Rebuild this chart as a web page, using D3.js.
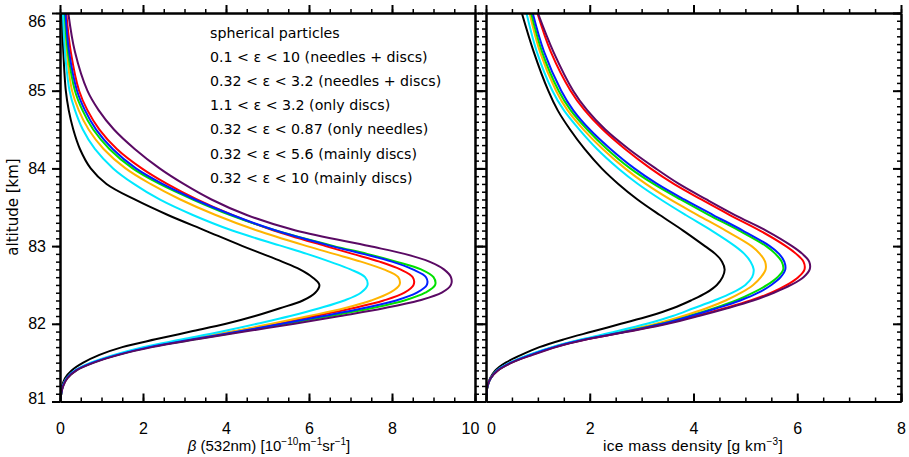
<!DOCTYPE html>
<html>
<head>
<meta charset="utf-8">
<script src="https://cdn.jsdelivr.net/npm/d3@7"></script>
<style>
  body { margin: 0; background: #fff; }
  svg { display: block; }
  text { fill: #000; }
</style>
</head>
<body>
<svg id="chart" width="909" height="457"></svg>
<script>
// Altitude levels [km] shared by every profile
const altitude = [81.0, 81.1, 81.2, 81.3, 81.4, 81.5, 81.6, 81.7, 81.8, 81.9,
                  82.0, 82.1, 82.2, 82.3, 82.4, 82.5, 82.6, 82.7, 82.8, 82.9,
                  83.0, 83.2, 83.4, 83.6, 83.8, 84.0, 84.25, 84.5, 84.75, 85.0, 85.5, 86.0];

// Volume backscatter coefficient beta at 532 nm [1e-10 m^-1 sr^-1]
const betaSpherical    = [0, 0.02, 0.05, 0.12, 0.28, 0.56, 0.95, 1.5, 2.3, 3.15, 4.0, 4.7, 5.3, 5.85, 6.15, 6.25, 6.08, 5.78, 5.35, 4.88, 4.4, 3.5, 2.6, 1.8, 1.12, 0.74, 0.48, 0.32, 0.21, 0.14, 0.08, 0.05];
const betaNeedleDisc10 = [0, 0.03, 0.07, 0.17, 0.38, 0.78, 1.37, 2.12, 3.15, 4.2, 5.2, 6.15, 7.05, 7.8, 8.3, 8.52, 8.5, 8.2, 7.7, 7.05, 6.4, 5.15, 4.15, 3.3, 2.58, 1.97, 1.37, 0.95, 0.66, 0.46, 0.26, 0.15];
const betaNeedleDisc32 = [0, 0.03, 0.07, 0.17, 0.38, 0.77, 1.35, 2.1, 3.1, 4.15, 5.1, 6.0, 6.85, 7.5, 7.95, 8.18, 8.15, 7.8, 7.25, 6.6, 5.95, 4.75, 3.75, 2.9, 2.18, 1.58, 1.05, 0.69, 0.45, 0.29, 0.16, 0.09];
const betaOnlyDiscs    = [0, 0.03, 0.07, 0.17, 0.39, 0.8, 1.39, 2.17, 3.25, 4.35, 5.45, 6.5, 7.5, 8.3, 8.8, 9.04, 9.0, 8.7, 8.1, 7.4, 6.6, 5.2, 4.1, 3.2, 2.4, 1.75, 1.19, 0.8, 0.54, 0.36, 0.19, 0.11];
const betaOnlyNeedles  = [0, 0.03, 0.07, 0.16, 0.36, 0.74, 1.3, 2.0, 2.95, 3.9, 4.75, 5.55, 6.25, 6.85, 7.25, 7.41, 7.35, 7.0, 6.5, 5.95, 5.35, 4.15, 3.2, 2.4, 1.78, 1.28, 0.84, 0.55, 0.36, 0.23, 0.12, 0.07];
const betaMainlyDisc56 = [0, 0.03, 0.07, 0.17, 0.38, 0.79, 1.38, 2.15, 3.2, 4.3, 5.35, 6.35, 7.3, 8.1, 8.6, 8.84, 8.82, 8.5, 8.0, 7.3, 6.55, 5.2, 4.15, 3.25, 2.47, 1.83, 1.27, 0.87, 0.6, 0.41, 0.22, 0.13];
const betaMainlyDisc10 = [0, 0.03, 0.08, 0.18, 0.4, 0.82, 1.42, 2.22, 3.3, 4.45, 5.65, 6.75, 7.8, 8.65, 9.2, 9.42, 9.42, 9.25, 8.9, 8.3, 7.45, 5.68, 4.5, 3.65, 2.98, 2.4, 1.8, 1.3, 0.93, 0.66, 0.36, 0.2];

// Ice mass density [g km^-3]
const massSpherical    = [0, 0.01, 0.03, 0.08, 0.18, 0.38, 0.68, 1.03, 1.5, 2.05, 2.6, 3.15, 3.6, 3.95, 4.25, 4.45, 4.56, 4.6, 4.55, 4.42, 4.22, 3.8, 3.35, 2.92, 2.55, 2.23, 1.9, 1.62, 1.38, 1.2, 0.92, 0.69];
const massNeedleDisc10 = [0, 0.01, 0.03, 0.09, 0.23, 0.49, 0.88, 1.33, 1.94, 2.72, 3.45, 4.05, 4.6, 5.1, 5.5, 5.8, 6.02, 6.14, 6.12, 5.98, 5.78, 5.28, 4.7, 4.15, 3.62, 3.17, 2.68, 2.25, 1.9, 1.63, 1.25, 0.99];
const massNeedleDisc32 = [0, 0.01, 0.03, 0.09, 0.22, 0.47, 0.84, 1.29, 1.88, 2.6, 3.28, 3.8, 4.25, 4.62, 4.92, 5.15, 5.3, 5.39, 5.38, 5.28, 5.12, 4.62, 4.08, 3.55, 3.08, 2.68, 2.25, 1.88, 1.57, 1.35, 1.04, 0.84];
const massOnlyDiscs    = [0, 0.01, 0.03, 0.09, 0.22, 0.48, 0.85, 1.3, 1.9, 2.68, 3.38, 3.92, 4.4, 4.82, 5.15, 5.42, 5.62, 5.73, 5.7, 5.58, 5.4, 4.88, 4.3, 3.75, 3.23, 2.78, 2.33, 1.95, 1.63, 1.4, 1.08, 0.87];
const massOnlyNeedles  = [0, 0.01, 0.03, 0.09, 0.21, 0.46, 0.82, 1.27, 1.85, 2.5, 3.1, 3.6, 4.0, 4.4, 4.75, 5.0, 5.13, 5.16, 5.1, 4.98, 4.8, 4.35, 3.85, 3.37, 2.93, 2.55, 2.14, 1.8, 1.5, 1.28, 0.98, 0.78];
const massMainlyDisc56 = [0, 0.01, 0.03, 0.09, 0.22, 0.48, 0.86, 1.31, 1.92, 2.7, 3.4, 3.95, 4.45, 4.9, 5.25, 5.5, 5.68, 5.77, 5.75, 5.65, 5.47, 4.95, 4.38, 3.82, 3.3, 2.86, 2.4, 2.0, 1.68, 1.45, 1.12, 0.9];
const massMainlyDisc10 = [0, 0.01, 0.03, 0.09, 0.23, 0.5, 0.9, 1.35, 1.95, 2.75, 3.5, 4.1, 4.65, 5.15, 5.55, 5.88, 6.12, 6.24, 6.23, 6.1, 5.9, 5.4, 4.8, 4.25, 3.72, 3.27, 2.75, 2.3, 1.95, 1.68, 1.3, 1.0];

// Legend entries and colours
const seriesLabels = [
  "spherical particles",
  "0.1 < \u03b5 < 10 (needles + discs)",
  "0.32 < \u03b5 < 3.2 (needles + discs)",
  "1.1 < \u03b5 < 3.2 (only discs)",
  "0.32 < \u03b5 < 0.87 (only needles)",
  "0.32 < \u03b5 < 5.6 (mainly discs)",
  "0.32 < \u03b5 < 10 (mainly discs)"
];
const seriesColors = ["#000000", "#ff0000", "#ffb400", "#00e000", "#00e8ff", "#0020ff", "#5a0a64"];
const betaSeries = [betaSpherical, betaNeedleDisc10, betaNeedleDisc32, betaOnlyDiscs, betaOnlyNeedles, betaMainlyDisc56, betaMainlyDisc10];
const massSeries = [massSpherical, massNeedleDisc10, massNeedleDisc32, massOnlyDiscs, massOnlyNeedles, massMainlyDisc56, massMainlyDisc10];

// Axis tick values
const altTicks = [81, 82, 83, 84, 85, 86];
const betaTicks = [0, 2, 4, 6, 8, 10];
const massTicks = [0, 2, 4, 6, 8];

const svg = d3.select("#chart");
const plotTop = 13, plotBottom = 401.5;
// rightIn: whether the right-hand y axis carries its ticks on the inside
const panels = [
  { x0: 60,  x1: 475, domain: [0, 10], ticks: betaTicks, series: betaSeries, id: "beta", rightIn: false },
  { x0: 486, x1: 901, domain: [0, 8],  ticks: massTicks, series: massSeries, id: "mass", rightIn: true }
];

const y = d3.scaleLinear().domain([81, 86]).range([plotBottom, plotTop]);
const altMinor = d3.range(81, 86.0001, 0.1).map(v => +v.toFixed(1));
const tickFont = "'Liberation Sans', Arial, sans-serif";
const textFont = "'DejaVu Sans', sans-serif";
const minorLen = 4, majorLen = 8;

function styleAxis(g, width) {
  g.select(".domain").attr("stroke", "#000").attr("stroke-width", 2);
  g.selectAll(".tick line").attr("stroke", "#000").attr("stroke-width", width);
}

panels.forEach((p, pi) => {
  const x = d3.scaleLinear().domain(p.domain).range([p.x0, p.x1]);
  const xMinor = d3.range(p.domain[0], p.domain[1] + 0.0001, 0.5);

  svg.append("defs").append("clipPath").attr("id", "clip-" + p.id)
    .append("rect").attr("x", p.x0).attr("y", plotTop)
    .attr("width", p.x1 - p.x0).attr("height", plotBottom - plotTop);

  // profiles
  const line = d3.line()
    .x(d => x(d.v))
    .y(d => y(d.alt))
    .curve(d3.curveCatmullRom.alpha(0.5));
  const g = svg.append("g").attr("clip-path", `url(#clip-${p.id})`);
  p.series.forEach((vals, si) => {
    const pts = altitude.map((a, i) => ({ alt: a, v: vals[i] }));
    g.append("path")
      .attr("d", line(pts))
      .attr("fill", "none")
      .attr("stroke", seriesColors[si])
      .attr("stroke-width", 2)
      .attr("stroke-linejoin", "round");
  });

  const rightSign = p.rightIn ? -1 : 1;

  // minor ticks
  svg.append("g").attr("transform", `translate(${p.x0},0)`)
    .call(d3.axisLeft(y).tickValues(altMinor).tickSize(minorLen).tickSizeOuter(0).tickFormat(""))
    .call(g => styleAxis(g, 1.5));
  svg.append("g").attr("transform", `translate(${p.x1},0)`)
    .call(d3.axisRight(y).tickValues(altMinor).tickSize(rightSign * minorLen).tickSizeOuter(0).tickFormat(""))
    .call(g => styleAxis(g, 1.5));
  svg.append("g").attr("transform", `translate(0,${plotTop})`)
    .call(d3.axisTop(x).tickValues(xMinor).tickSize(minorLen).tickSizeOuter(0).tickFormat(""))
    .call(g => styleAxis(g, 1.5));
  svg.append("g").attr("transform", `translate(0,${plotBottom})`)
    .call(d3.axisBottom(x).tickValues(xMinor).tickSize(-minorLen).tickSizeOuter(0).tickFormat(""))
    .call(g => styleAxis(g, 1.5));

  // major ticks and labels
  const left = svg.append("g").attr("transform", `translate(${p.x0},0)`)
    .call(d3.axisLeft(y).tickValues(altTicks).tickSize(majorLen).tickSizeOuter(0)
      .tickPadding(6).tickFormat(pi === 0 ? d3.format("d") : ""))
    .call(g => styleAxis(g, 2));
  left.selectAll("text").attr("font-family", tickFont).attr("font-size", 16).attr("fill", "#000");
  // end labels are kept inside the frame height
  left.selectAll(".tick").filter(d => d === 86).select("text").attr("dy", "0.82em");
  left.selectAll(".tick").filter(d => d === 81).select("text").attr("dy", "0.12em");
  svg.append("g").attr("transform", `translate(${p.x1},0)`)
    .call(d3.axisRight(y).tickValues(altTicks).tickSize(rightSign * majorLen).tickSizeOuter(0).tickFormat(""))
    .call(g => styleAxis(g, 2));
  svg.append("g").attr("transform", `translate(0,${plotTop})`)
    .call(d3.axisTop(x).tickValues(p.ticks).tickSize(majorLen).tickSizeOuter(0).tickFormat(""))
    .call(g => styleAxis(g, 2));
  const bot = svg.append("g").attr("transform", `translate(0,${plotBottom})`)
    .call(d3.axisBottom(x).tickValues(p.ticks).tickSize(-majorLen).tickSizeOuter(0)
      .tickPadding(21).tickFormat(d3.format("d")))
    .call(g => styleAxis(g, 2));
  bot.selectAll("text").attr("font-family", tickFont).attr("font-size", 16).attr("fill", "#000");
  // keep the shared-edge labels "10" and "0" apart
  if (pi === 0) bot.selectAll(".tick").filter(d => d === 10).select("text").attr("dx", -5);
  if (pi === 1) bot.selectAll(".tick").filter(d => d === 0).select("text").attr("dx", 5);
});

// axis titles
svg.append("text")
  .attr("transform", "translate(18,207) rotate(-90)")
  .attr("text-anchor", "middle")
  .attr("font-family", textFont).attr("font-size", 15)
  .text("altitude [km]");

const titleFont = "'Liberation Sans', Arial, sans-serif";
const t1 = svg.append("text")
  .attr("x", 269).attr("y", 451)
  .attr("text-anchor", "middle")
  .attr("font-family", titleFont).attr("font-size", 15);
t1.append("tspan").attr("font-style", "italic").text("\u03b2");
t1.append("tspan").text(" (532nm) [10");
t1.append("tspan").attr("dy", -6).attr("font-size", 10).text("\u221210");
t1.append("tspan").attr("dy", 6).text("m");
t1.append("tspan").attr("dy", -6).attr("font-size", 10).text("\u22121");
t1.append("tspan").attr("dy", 6).text("sr");
t1.append("tspan").attr("dy", -6).attr("font-size", 10).text("\u22121");
t1.append("tspan").attr("dy", 6).text("]");

const t2 = svg.append("text")
  .attr("x", 693).attr("y", 451)
  .attr("text-anchor", "middle")
  .attr("font-family", titleFont).attr("font-size", 15.5)
  .attr("letter-spacing", 0.3);
t2.append("tspan").text("ice mass density [g km");
t2.append("tspan").attr("dy", -6).attr("font-size", 10).text("\u22123");
t2.append("tspan").attr("dy", 6).text("]");

// legend
const legend = svg.append("g").attr("font-family", textFont).attr("font-size", 14.2);
seriesLabels.forEach((lab, i) => {
  legend.append("text")
    .attr("x", 210)
    .attr("y", 38 + i * 24.1)
    .attr("fill", seriesColors[i])
    .text(lab);
});
</script>
</body>
</html>
